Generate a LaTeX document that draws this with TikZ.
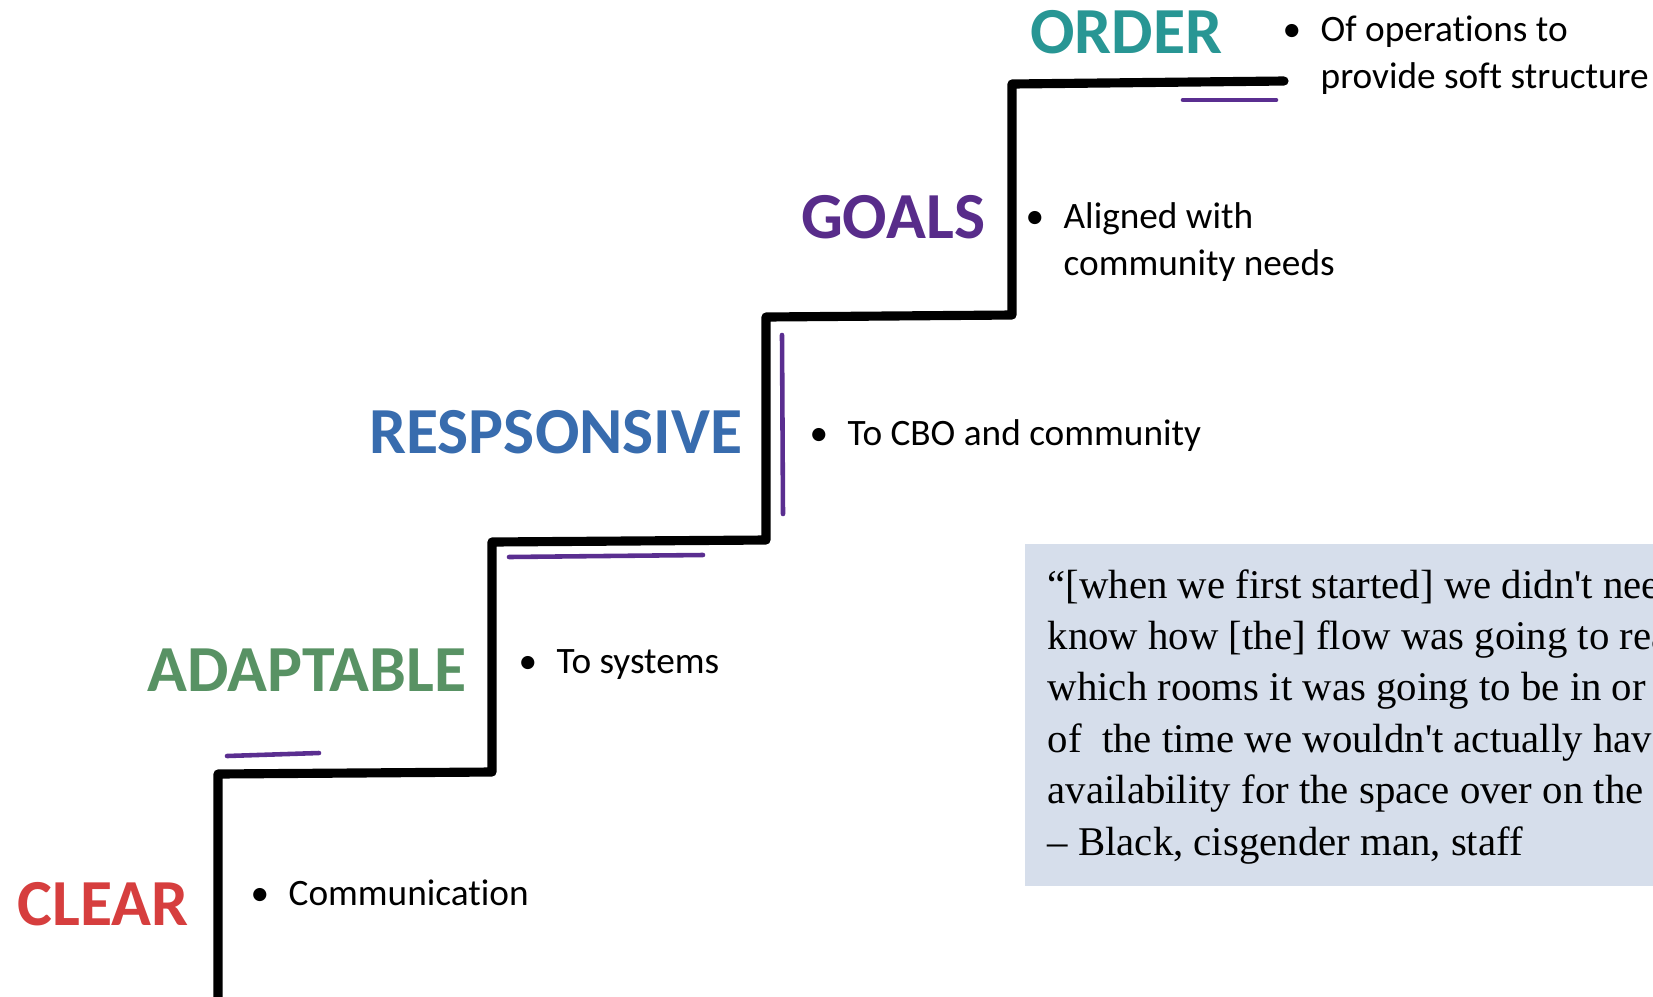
\documentclass[tikz,border=0pt]{standalone}
\usepackage{fontspec}
\usepackage{tikz}
\usetikzlibrary{positioning}
\newfontfamily\calib[Ligatures=NoCommon]{Carlito}
\newfontfamily\garam{Liberation Serif}
\definecolor{clearred}{RGB}{214,62,62}
\definecolor{adaptgreen}{RGB}{88,146,100}
\definecolor{respblue}{RGB}{56,108,174}
\definecolor{goalpurple}{RGB}{88,44,138}
\definecolor{orderteal}{RGB}{40,150,148}
\definecolor{accpurple}{RGB}{90,46,144}
\definecolor{quotefill}{RGB}{214,222,235}
\newcommand{\itm}{\makebox[10.8pt][l]{\textbullet}}
\newcommand{\ap}{\textquotesingle}

\begin{document}
\begin{tikzpicture}[
  x=0.01cm, y=-0.01cm,
  stair/.style={line width=2.6pt, line join=round, line cap=round},
  accent/.style={draw=accpurple, line width=1.3pt, line cap=round},
  lbl/.style={inner sep=0pt, anchor=east, font=\calib\bfseries\fontsize{18.7}{20}\selectfont},
  item/.style={inner sep=0pt, anchor=base west, align=left,
    font=\calib\fontsize{10.6}{13.3}\selectfont},
  quotebox/.style={inner sep=0pt, anchor=base west, align=left,
    font=\garam\fontsize{11.6}{14.6}\selectfont}
]
  \useasboundingbox (0,0) rectangle (1653,996);
  \clip (0,0) rectangle (1653,996);

  % quote panel
  \fill[quotefill] (1025,544) rectangle (1670,886);
  \node[quotebox] (quote) at (1047,855) {“[when we first started] we didn\ap t need\\
    know how [the] flow was going to really\\
    which rooms it was going to be in or\\
    of \ the time we wouldn\ap t actually have\\
    availability for the space over on the other\\
    – Black, cisgender man, staff};

  % staircase
  \coordinate (s0) at (218,1010);
  \coordinate (s1) at (218,774);
  \coordinate (s2) at (492,772);
  \coordinate (s3) at (492,542);
  \coordinate (s4) at (766,540);
  \coordinate (s5) at (766,317);
  \coordinate (s6) at (1012,315);
  \coordinate (s7) at (1012,84);
  \coordinate (s8) at (1284,81);
  \draw[stair] (s0) -- (s1) -- (s2) -- (s3) -- (s4) -- (s5) -- (s6) -- (s7) -- (s8);

  \draw[accent] (227,756) -- (319,753);
  \draw[accent] (509,557) -- (703,555);
  \draw[accent] (782,335) -- (783,514);
  \draw[accent] (1183,100) -- (1276,100);

  % step labels
  \node[lbl, text=clearred] (clear) at (189,904) {CLEAR};
  \node[lbl, text=adaptgreen] (adapt) at (467,670) {ADAPTABLE};
  \node[lbl, text=respblue] (resp) at (743,432) {RESPSONSIVE};
  \node[lbl, text=goalpurple] (goals) at (986,217) {GOALS};
  \node[lbl, text=orderteal] (order) at (1223,32) {ORDER};

  % bullets
  \node[item] (clearitem) at (250,905) {\itm Communication};
  \node[item] (adaptitem) at (518,673) {\itm To systems};
  \node[item] (respitem) at (809,445) {\itm To CBO and community};
  \node[item] (goalsitem) at (1025,275) {\itm Aligned with\\\hspace*{10.8pt}community needs};
  \node[item] (orderitem) at (1282,88) {\itm Of operations to\\\hspace*{10.8pt}provide soft structure};
\end{tikzpicture}
\end{document}
